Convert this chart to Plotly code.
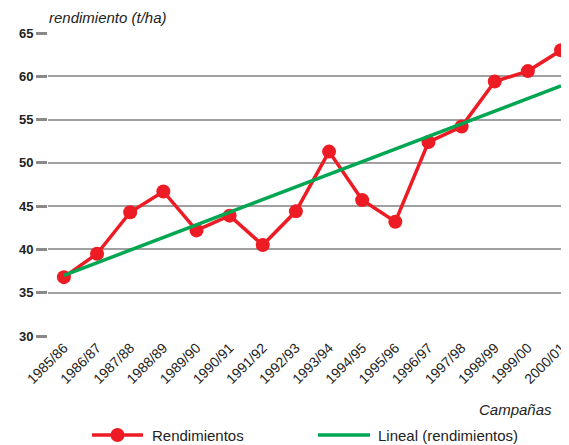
import plotly.graph_objects as go

campanas = ["1985/86", "1986/87", "1987/88", "1988/89", "1989/90", "1990/91",
            "1991/92", "1992/93", "1993/94", "1994/95", "1995/96", "1996/97",
            "1997/98", "1998/99", "1999/00", "2000/01"]
rendimientos = [36.8, 39.5, 44.3, 46.7, 42.2, 43.9, 40.5, 44.4,
                51.3, 45.7, 43.2, 52.4, 54.2, 59.4, 60.6, 63.0]
# extremos de la linea de tendencia (lineal)
tendencia_x = [campanas[0], campanas[-1]]
tendencia_y = [37.0, 58.9]

RED = "#ED1C24"
GREEN = "#00A651"
TXT = "#222"
FONT = "Liberation Sans, Arial, sans-serif"

# la pagina tiene 8px de margen en el body, se compensa aqui
OFF = 8
W, H = 569 - OFF, 445 - OFF
L, R, T = 48 - OFF, 0, 33 - OFF
B = H - (336 - OFF)
PW, PH = W - L - R, H - T - B


def px(x):
    return (x - OFF - L) / PW


def py(y):
    return (H - B - (y - OFF)) / PH


fig = go.Figure()
fig.add_trace(go.Scatter(x=campanas, y=rendimientos, mode="lines+markers",
                         name="Rendimientos",
                         line=dict(color=RED, width=3.5),
                         marker=dict(color=RED, size=14)))
fig.add_trace(go.Scatter(x=tendencia_x, y=tendencia_y, mode="lines",
                         name="Lineal (rendimientos)",
                         line=dict(color=GREEN, width=3.5)))

# leyenda dibujada a mano (lineas mas largas que las de plotly)
ly = py(435)
shapes = [
    dict(type="line", xref="paper", yref="paper", x0=px(92), x1=px(143), y0=ly, y1=ly,
         line=dict(color=RED, width=3.5)),
    dict(type="circle", xref="paper", yref="paper", x0=px(110.5), x1=px(124.5),
         y0=py(442), y1=py(428), fillcolor=RED, line=dict(color=RED, width=0)),
    dict(type="line", xref="paper", yref="paper", x0=px(318), x1=px(370), y0=ly, y1=ly,
         line=dict(color=GREEN, width=3.5)),
]

fig.update_layout(
    width=W, height=H,
    margin=dict(l=L, r=R, t=T, b=B),
    plot_bgcolor="white", paper_bgcolor="white",
    font=dict(family=FONT, color=TXT),
    showlegend=False,
    xaxis=dict(type="category", range=[-0.48, 15.24], showgrid=False,
               tickangle=-45, tickfont=dict(size=14, color=TXT),
               ticks="", showline=False, zeroline=False, automargin=False),
    yaxis=dict(range=[30, 65], dtick=5, showgrid=True, gridcolor="#a0a0a0",
               gridwidth=1.5, ticks="outside", ticklen=11, tickwidth=2.5,
               tickcolor="#8a8a8a", tickfont=dict(size=13, color=TXT),
               tickprefix="<b>", ticksuffix="</b>",
               zeroline=False, showline=False, automargin=False),
    shapes=shapes,
    annotations=[
        dict(text="<i>rendimiento (t/ha)</i>", xref="paper", yref="paper",
             x=px(47), y=py(18), xanchor="left", yanchor="middle",
             showarrow=False, font=dict(size=15, color=TXT)),
        dict(text="<i>Campañas</i>", xref="paper", yref="paper",
             x=px(554), y=py(409), xanchor="right", yanchor="middle",
             showarrow=False, font=dict(size=15, color=TXT)),
        dict(text="Rendimientos", xref="paper", yref="paper",
             x=px(150), y=ly, xanchor="left", yanchor="middle",
             showarrow=False, font=dict(size=15, color=TXT)),
        dict(text="Lineal (rendimientos)", xref="paper", yref="paper",
             x=px(376), y=ly, xanchor="left", yanchor="middle",
             showarrow=False, font=dict(size=15, color=TXT)),
    ],
)

fig.write_html("out.html")
